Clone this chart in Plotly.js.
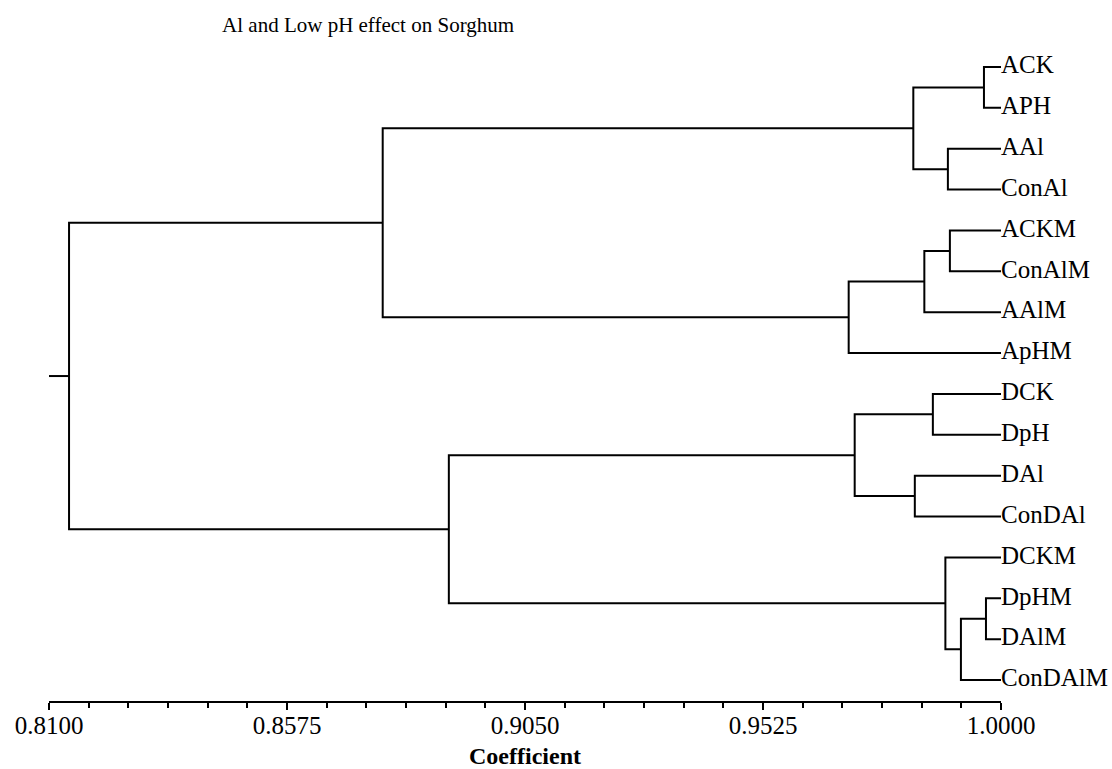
<!DOCTYPE html>
<html>
<head>
<meta charset="utf-8">
<script src="https://cdn.plot.ly/plotly-3.0.1.min.js"></script>
<style>html,body{margin:0;padding:0;background:#fff;}#chart{width:1112px;height:769px;}</style>
</head>
<body>
<div id="chart"></div>
<script>
// Leaves, top to bottom
var leaves = ["ACK","APH","AAl","ConAl","ACKM","ConAlM","AAlM","ApHM",
              "DCK","DpH","DAl","ConDAl","DCKM","DpHM","DAlM","ConDAlM"];
// Merges: children are leaf indices (0-15) or earlier merge nodes (16+)
var mergeLeft   = [0, 2, 16, 4, 19, 20, 18, 8, 10, 23, 13, 26, 12, 25, 22];
var mergeRight  = [1, 3, 17, 5, 6, 7, 21, 9, 11, 24, 14, 15, 27, 28, 29];
var mergeCoeff  = [0.9966, 0.9894, 0.9825, 0.9898, 0.9847, 0.9696, 0.8766,
                   0.9864, 0.9828, 0.9708, 0.9970, 0.9920, 0.9889, 0.8898, 0.8140];
var leafCoeff = 1.0;
var rootStart = 0.8100;
var xTickVals = [0.8100, 0.8575, 0.9050, 0.9525, 1.0000];
var xTickText = ["0.8100", "0.8575", "0.9050", "0.9525", "1.0000"];

var nodeX = [], nodeY = [];
for (var i = 0; i < leaves.length; i++) { nodeX.push(leafCoeff); nodeY.push(i); }
var xs = [], ys = [];
for (var m = 0; m < mergeLeft.length; m++) {
  var a = mergeLeft[m], b = mergeRight[m], h = mergeCoeff[m];
  xs.push(nodeX[a], h, h, nodeX[b], null);
  ys.push(nodeY[a], nodeY[a], nodeY[b], nodeY[b], null);
  nodeX.push(h); nodeY.push((nodeY[a] + nodeY[b]) / 2);
}
var root = nodeX.length - 1;
xs.push(rootStart, nodeX[root], null);
ys.push(nodeY[root], nodeY[root], null);

var leafIdx = leaves.map(function(_, i){ return i; });
var leafX = leaves.map(function(){ return leafCoeff; });

var serif = "Liberation Serif, Times New Roman, serif";
var traces = [
  {x: xs, y: ys, mode: "lines", type: "scatter",
   line: {color: "#000", width: 2}, hoverinfo: "skip", showlegend: false},
  {x: leafX, y: leafIdx, mode: "text", type: "scatter", text: leaves,
   textposition: "middle right", cliponaxis: false,
   textfont: {family: serif, size: 25, color: "#000"},
   hoverinfo: "skip", showlegend: false}
];

var layout = {
  width: 1112, height: 769,
  margin: {l: 49, r: 111, t: 40, b: 68},
  paper_bgcolor: "#fff", plot_bgcolor: "#fff",
  title: {text: "Al and Low pH effect on Sorghum", x: 0.331, xanchor: "center",
          y: 0.968, yanchor: "middle",
          font: {family: serif, size: 21, color: "#000"}},
  xaxis: {range: [0.81, 1.0], tickvals: xTickVals, ticktext: xTickText,
          showgrid: false, zeroline: false, showline: true, linecolor: "#000", linewidth: 2,
          ticks: "outside", ticklen: 7, tickwidth: 2, tickcolor: "#000",
          ticklabelstandoff: -6,
          minor: {dtick: 0.0475/6, tick0: 0.81, ticks: "outside", ticklen: 5, tickwidth: 2, tickcolor: "#000", showgrid: false},
          tickfont: {family: serif, size: 25, color: "#000"},
          title: {text: "<b>Coefficient</b>", standoff: 15, font: {family: serif, size: 24, color: "#000"}}},
  yaxis: {range: [15.514, -0.66], showgrid: false, zeroline: false, showline: false,
          showticklabels: false, ticks: ""}
};
Plotly.newPlot("chart", traces, layout, {displayModeBar: false, staticPlot: true});
</script>
</body>
</html>
